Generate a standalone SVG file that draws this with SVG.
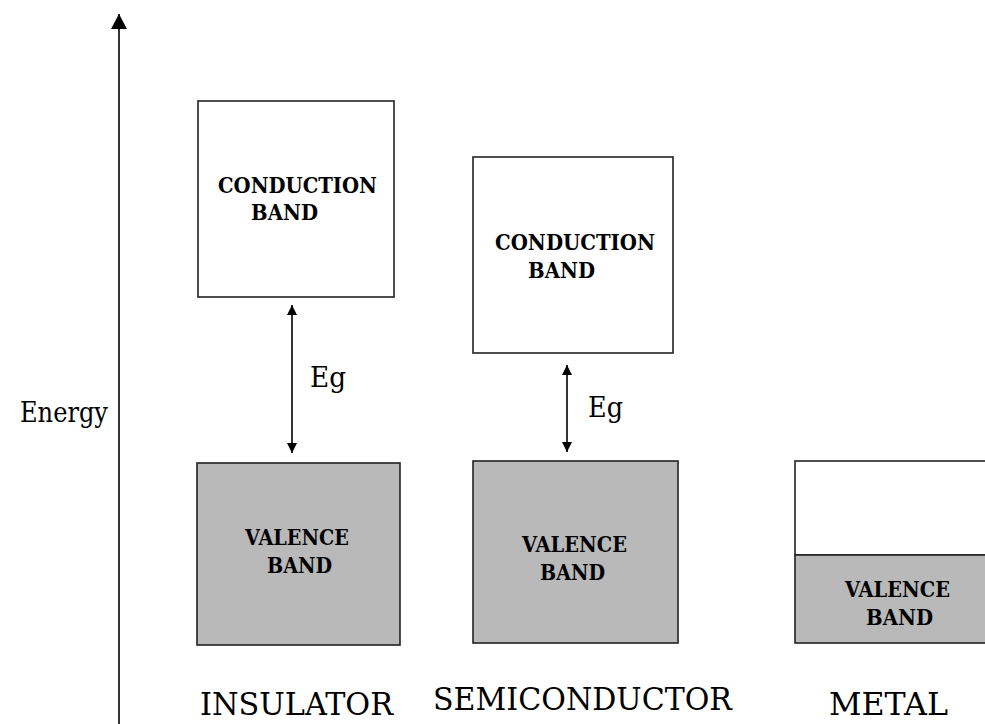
<svg xmlns="http://www.w3.org/2000/svg" width="985" height="724" viewBox="0 0 985 724">
<style>
text{font-family:"DejaVu Serif","Liberation Serif",serif;fill:#000}
.lbl{font-weight:bold;font-size:22px}
.big{font-size:28px}
.cap{font-size:32px}
.box{fill:#ffffff;stroke:#222;stroke-width:1.6}
.val{fill:#b9b9b9;stroke:#222;stroke-width:1.6}
.conn{stroke:#000;stroke-width:1.6;fill:none}
</style>
<defs>
<marker id="ah" markerUnits="userSpaceOnUse" markerWidth="12" markerHeight="10" refX="10" refY="5" orient="auto-start-reverse" viewBox="0 0 12 10">
<path d="M0,0 L10,5 L0,10 z" fill="#000"/>
</marker>
<marker id="axh" markerUnits="userSpaceOnUse" markerWidth="16" markerHeight="16" refX="15" refY="8" orient="auto" viewBox="0 0 16 16">
<path d="M0,0 L15,8 L0,16 z" fill="#000"/>
</marker>
</defs>

<g id="axis">
<line class="conn" x1="119" y1="724" x2="119" y2="14" stroke-width="2" marker-end="url(#axh)"/>
<text class="big" x="20" y="422" textLength="88" lengthAdjust="spacingAndGlyphs">Energy</text>
</g>

<g id="ins-cond">
<rect class="box" x="198" y="101" width="196" height="196"/>
<text class="lbl" x="218" y="193" textLength="159" lengthAdjust="spacingAndGlyphs">CONDUCTION</text>
<text class="lbl" x="251" y="220" textLength="67" lengthAdjust="spacingAndGlyphs">BAND</text>
</g>
<g id="ins-val">
<rect class="val" x="197" y="463" width="203" height="182"/>
<text class="lbl" x="245" y="545" textLength="104" lengthAdjust="spacingAndGlyphs">VALENCE</text>
<text class="lbl" x="267" y="573" textLength="65" lengthAdjust="spacingAndGlyphs">BAND</text>
</g>

<g id="semi-cond">
<rect class="box" x="473" y="157" width="200" height="196"/>
<text class="lbl" x="495" y="250" textLength="160" lengthAdjust="spacingAndGlyphs">CONDUCTION</text>
<text class="lbl" x="528" y="278" textLength="67" lengthAdjust="spacingAndGlyphs">BAND</text>
</g>
<g id="semi-val">
<rect class="val" x="473" y="461" width="205" height="182"/>
<text class="lbl" x="522" y="552" textLength="105" lengthAdjust="spacingAndGlyphs">VALENCE</text>
<text class="lbl" x="540" y="580" textLength="65" lengthAdjust="spacingAndGlyphs">BAND</text>
</g>

<g id="metal">
<rect class="box" x="795" y="461" width="200" height="94"/>
<rect class="val" x="795" y="555" width="200" height="88"/>
<text class="lbl" x="845" y="597" textLength="105" lengthAdjust="spacingAndGlyphs">VALENCE</text>
<text class="lbl" x="866" y="625" textLength="67" lengthAdjust="spacingAndGlyphs">BAND</text>
</g>

<g id="connectors">
<line class="conn" x1="292" y1="305" x2="292" y2="453" marker-start="url(#ah)" marker-end="url(#ah)"/>
<line class="conn" x1="567" y1="365" x2="567" y2="452" marker-start="url(#ah)" marker-end="url(#ah)"/>
</g>

<g id="gap-labels">
<text class="big" x="310" y="387" textLength="36" lengthAdjust="spacingAndGlyphs">Eg</text>
<text class="big" x="588" y="417" textLength="35" lengthAdjust="spacingAndGlyphs">Eg</text>
</g>

<g id="material-labels">
<text class="cap" x="200" y="715" textLength="193" lengthAdjust="spacingAndGlyphs">INSULATOR</text>
<text class="cap" x="433" y="710" textLength="299" lengthAdjust="spacingAndGlyphs">SEMICONDUCTOR</text>
<text class="cap" x="829" y="715" textLength="119" lengthAdjust="spacingAndGlyphs">METAL</text>
</g>
</svg>
